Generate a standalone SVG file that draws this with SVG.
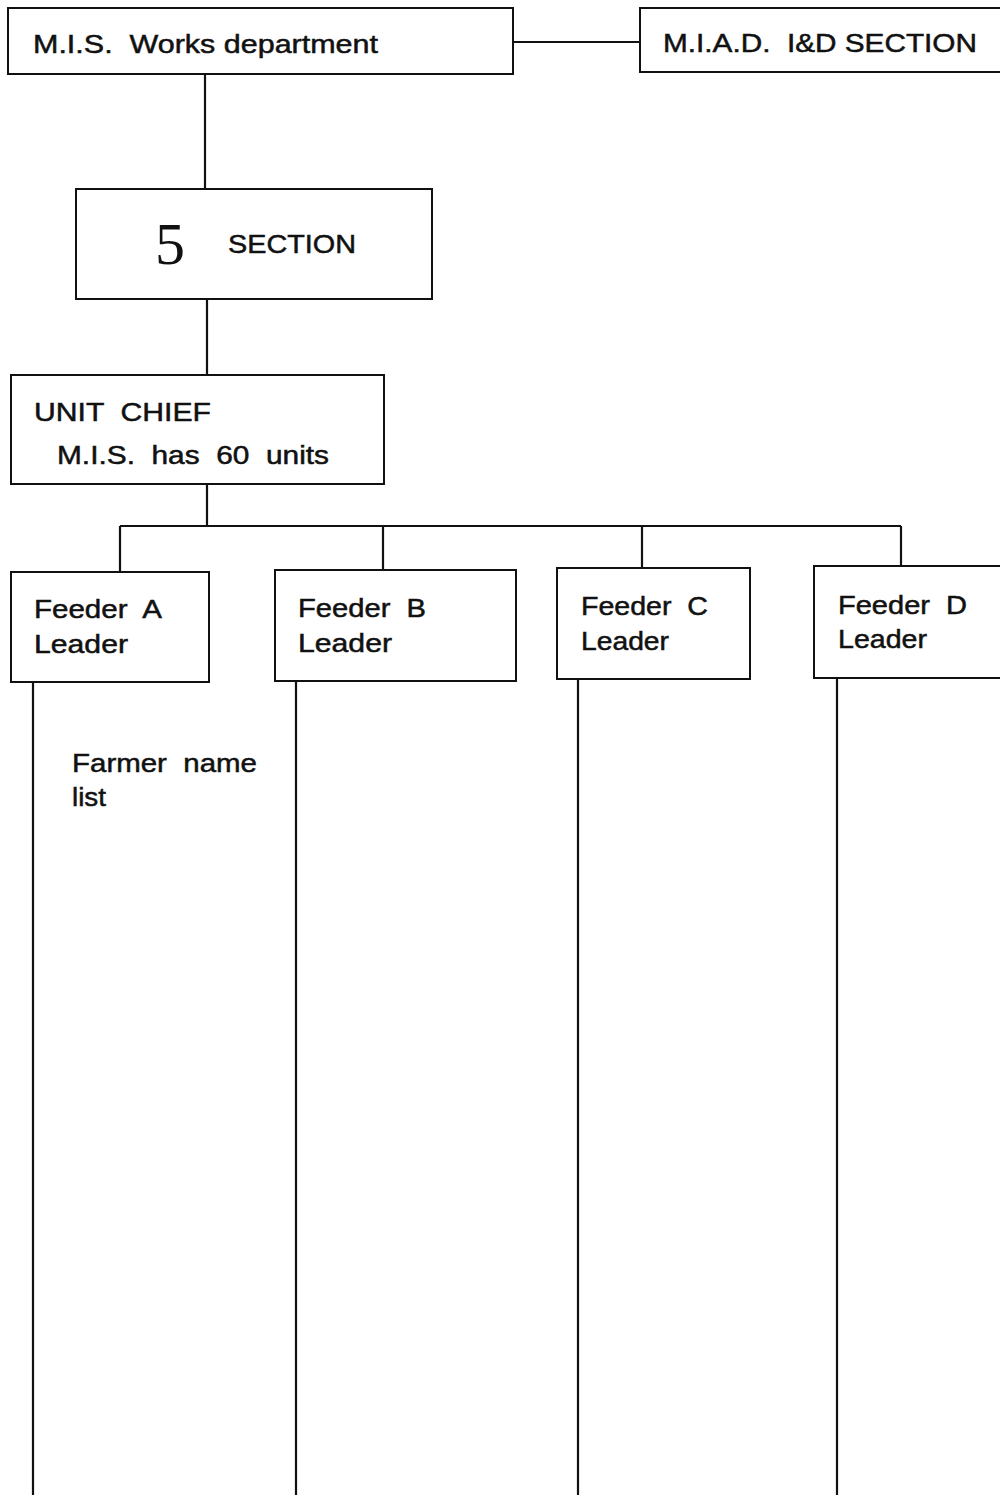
<svg xmlns="http://www.w3.org/2000/svg" width="1000" height="1495" viewBox="0 0 1000 1495" xml:space="preserve">
<style>
.box{fill:#fff;stroke:#111;stroke-width:2}
.t{font-family:"Liberation Sans",Arial,sans-serif;font-size:26px;fill:#111;stroke:#111;stroke-width:0.5;white-space:pre}
.c{fill:none;stroke:#111;stroke-width:2.2}
.big{font-family:"Liberation Serif","Times New Roman",serif;font-size:60px;fill:#111}
</style>
<rect width="1000" height="1495" fill="#fff"/>
<g id="connectors">
<line class="c" x1="513" y1="42" x2="640" y2="42" stroke-width="1.5"/>
<line class="c" x1="205" y1="74" x2="205" y2="189"/>
<line class="c" x1="207" y1="299" x2="207" y2="375"/>
<line class="c" x1="207" y1="484" x2="207" y2="526"/>
<line class="c" x1="120" y1="526" x2="901" y2="526"/>
<line class="c" x1="120" y1="526" x2="120" y2="572"/>
<line class="c" x1="383" y1="526" x2="383" y2="570"/>
<line class="c" x1="642" y1="526" x2="642" y2="568"/>
<line class="c" x1="901" y1="526" x2="901" y2="566"/>
<line class="c" x1="33" y1="682" x2="33" y2="1495" stroke-width="3"/>
<line class="c" x1="296" y1="681" x2="296" y2="1495" stroke-width="3"/>
<line class="c" x1="578" y1="679" x2="578" y2="1495" stroke-width="3"/>
<line class="c" x1="837" y1="678" x2="837" y2="1495" stroke-width="3"/>
</g>
<g id="mis-works">
<rect class="box" x="8" y="8" width="505" height="66"/>
<text class="t" x="33" y="53" textLength="345" lengthAdjust="spacingAndGlyphs">M.I.S.  Works department</text>
</g>
<g id="miad">
<rect class="box" x="640" y="8" width="370" height="64"/>
<text class="t" x="663" y="52" textLength="314" lengthAdjust="spacingAndGlyphs">M.I.A.D.  I&amp;D SECTION</text>
</g>
<g id="section5">
<rect class="box" x="76" y="189" width="356" height="110"/>
<text class="big" x="155" y="264">5</text>
<text class="t" x="228" y="253" textLength="128" lengthAdjust="spacingAndGlyphs">SECTION</text>
</g>
<g id="unit-chief">
<rect class="box" x="11" y="375" width="373" height="109"/>
<text class="t" x="34" y="421" textLength="177" lengthAdjust="spacingAndGlyphs">UNIT  CHIEF</text>
<text class="t" x="57" y="464" textLength="272" lengthAdjust="spacingAndGlyphs">M.I.S.  has  60  units</text>
</g>
<g id="feeder-a">
<rect class="box" x="11" y="572" width="198" height="110"/>
<text class="t" x="34" y="618" textLength="128" lengthAdjust="spacingAndGlyphs">Feeder  A</text>
<text class="t" x="34" y="653" textLength="94" lengthAdjust="spacingAndGlyphs">Leader</text>
</g>
<g id="feeder-b">
<rect class="box" x="275" y="570" width="241" height="111"/>
<text class="t" x="298" y="617" textLength="128" lengthAdjust="spacingAndGlyphs">Feeder  B</text>
<text class="t" x="298" y="652" textLength="94" lengthAdjust="spacingAndGlyphs">Leader</text>
</g>
<g id="feeder-c">
<rect class="box" x="557" y="568" width="193" height="111"/>
<text class="t" x="581" y="615" textLength="127" lengthAdjust="spacingAndGlyphs">Feeder  C</text>
<text class="t" x="581" y="650" textLength="88" lengthAdjust="spacingAndGlyphs">Leader</text>
</g>
<g id="feeder-d">
<rect class="box" x="814" y="566" width="196" height="112"/>
<text class="t" x="838" y="614" textLength="129" lengthAdjust="spacingAndGlyphs">Feeder  D</text>
<text class="t" x="838" y="648" textLength="89" lengthAdjust="spacingAndGlyphs">Leader</text>
</g>
<g id="farmer-list">
<text class="t" x="72" y="772" textLength="185" lengthAdjust="spacingAndGlyphs">Farmer  name</text>
<text class="t" x="72" y="806" textLength="34" lengthAdjust="spacingAndGlyphs">list</text>
</g>
</svg>
